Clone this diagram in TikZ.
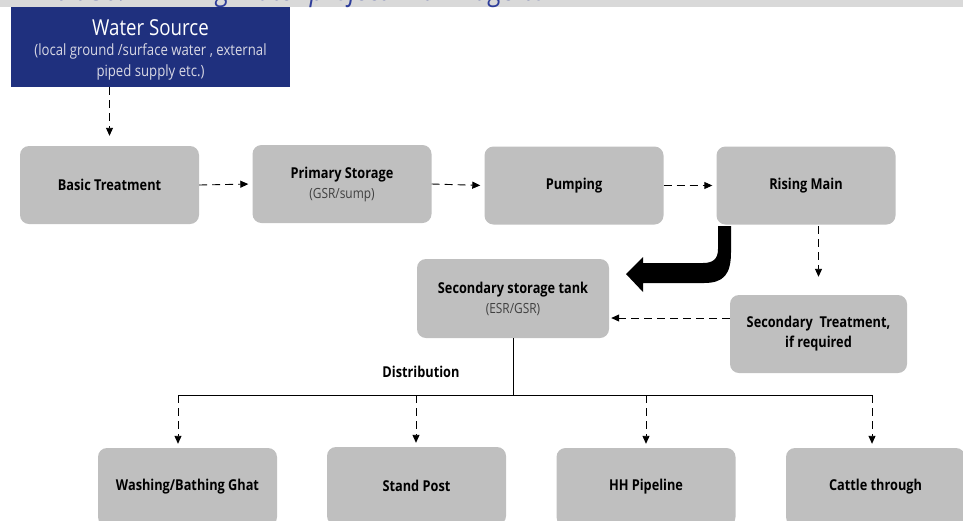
\documentclass[tikz,border=0pt]{standalone}
\usepackage{fontspec}
\setmainfont{Open Sans}[FakeStretch=0.85]
\usetikzlibrary{arrows.meta}
\definecolor{boxgrey}{HTML}{BFBFBF}
\definecolor{wsblue}{HTML}{1F307E}
\definecolor{bandgrey}{HTML}{D9D9D9}
\definecolor{titleblue}{HTML}{2E3D9A}
\definecolor{subgrey}{HTML}{404040}
\definecolor{wssub}{HTML}{D8D8E4}
\newcommand{\lab}[1]{{\bfseries #1}}
\newcommand{\subl}[1]{{\fontsize{14}{20}\selectfont\color{subgrey}#1}}
\tikzset{
  stepbox/.style={rectangle, rounded corners=9pt, fill=boxgrey, minimum width=179pt, minimum height=78pt, align=center, inner sep=0pt, font=\fontsize{15}{20}\selectfont},
  dasharrow/.style={line width=0.9pt, dash pattern=on 8pt off 5pt, -{Triangle[length=8pt,width=7pt]}},
  solidline/.style={line width=0.9pt}
}
\begin{document}
\begin{tikzpicture}[x=1pt,y=-1pt]
\useasboundingbox (0,0) rectangle (963,520);
\begin{scope}
\clip (0,0) rectangle (963,520);
\fill[bandgrey] (0,0) rectangle (963,7);
\node[anchor=base west, inner sep=0pt, text=titleblue, font=\itshape\fontsize{30}{30}\selectfont] (title) at (8,0.5) {Exhibit 30: Drinking Water project in a village/town};

\node[rectangle, fill=wsblue, minimum width=279pt, minimum height=80pt, inner sep=0pt, align=center, text=wssub, font=\fontsize{15.5}{21}\selectfont] (ws) at (150.5,47)
  {\rule{0pt}{22pt}{\fontsize{22}{23}\selectfont\color{white}Water Source}\\[-1pt](local ground /surface water , external\\piped supply etc.)};

\node[stepbox] (bt) at (109.5,185) {\lab{Basic Treatment}};
\node[stepbox] (ps) at (342,184) {\lab{Primary Storage}\\\subl{(GSR/sump)}};
\node[stepbox] (pu) at (574,185.5) {\lab{Pumping}};
\node[stepbox] (rm) at (806,185.5) {\lab{Rising Main}};
\node[stepbox, minimum width=192pt, minimum height=79pt] (ss) at (513,298.5) {\lab{Secondary storage tank}\\\subl{(ESR/GSR)}};
\node[stepbox, minimum width=177pt] (st) at (818.5,334) {\lab{Secondary\ \ Treatment,}\\\lab{if required}};

\node[stepbox] (b1) at (187.5,487) {\lab{Washing/Bathing Ghat}};
\node[stepbox] (b2) at (416.5,486) {\lab{Stand Post}};
\node[stepbox] (b3) at (646,487) {\lab{HH Pipeline}};
\node[stepbox] (b4) at (875.5,487) {\lab{Cattle through}};

\node[font=\fontsize{15}{18}\selectfont\bfseries, inner sep=0pt] (dist) at (421,372) {Distribution};

% connectors
\draw[dasharrow, shorten >=10pt] (bt.north |- ws.south) -- (bt.north);
\draw[dasharrow, shorten >=4pt] (bt.east) -- (ps.west);
\draw[dasharrow, shorten >=4pt] (ps.east) -- (pu.west);
\draw[dasharrow, shorten >=4pt] (pu.east) -- (rm.west);
\draw[dasharrow, shorten >=18pt] (st.north |- 0,226) -- (st.north);
\draw[dasharrow, shorten >=2pt] (st.west |- 0,318) -- (ss.east |- 0,318);

% big bent arrow
\fill[black] (731,226) -- (731,252)
  .. controls (731,274) and (724,283) .. (704,283)
  -- (643,283) -- (643,292) -- (626,274) -- (643,257) -- (643,263)
  -- (703,263) .. controls (713,263) and (718,259) .. (718,249)
  -- (718,226) -- cycle;

% distribution tree
\coordinate (dj) at (ss.south |- 0,395);
\coordinate (d1) at (178,395);
\coordinate (d2) at (416,395);
\coordinate (d3) at (646,395);
\coordinate (d4) at (872,395);
\draw[solidline] (ss.south) -- (dj);
\draw[solidline] (d1) -- (d4);
\draw[dasharrow, shorten >=4pt] (d1) -- (d1 |- b1.north);
\draw[dasharrow, shorten >=4pt] (d2) -- (d2 |- b2.north);
\draw[dasharrow, shorten >=4pt] (d3) -- (d3 |- b3.north);
\draw[dasharrow, shorten >=4pt] (d4) -- (d4 |- b4.north);
\end{scope}
\end{tikzpicture}
\end{document}
